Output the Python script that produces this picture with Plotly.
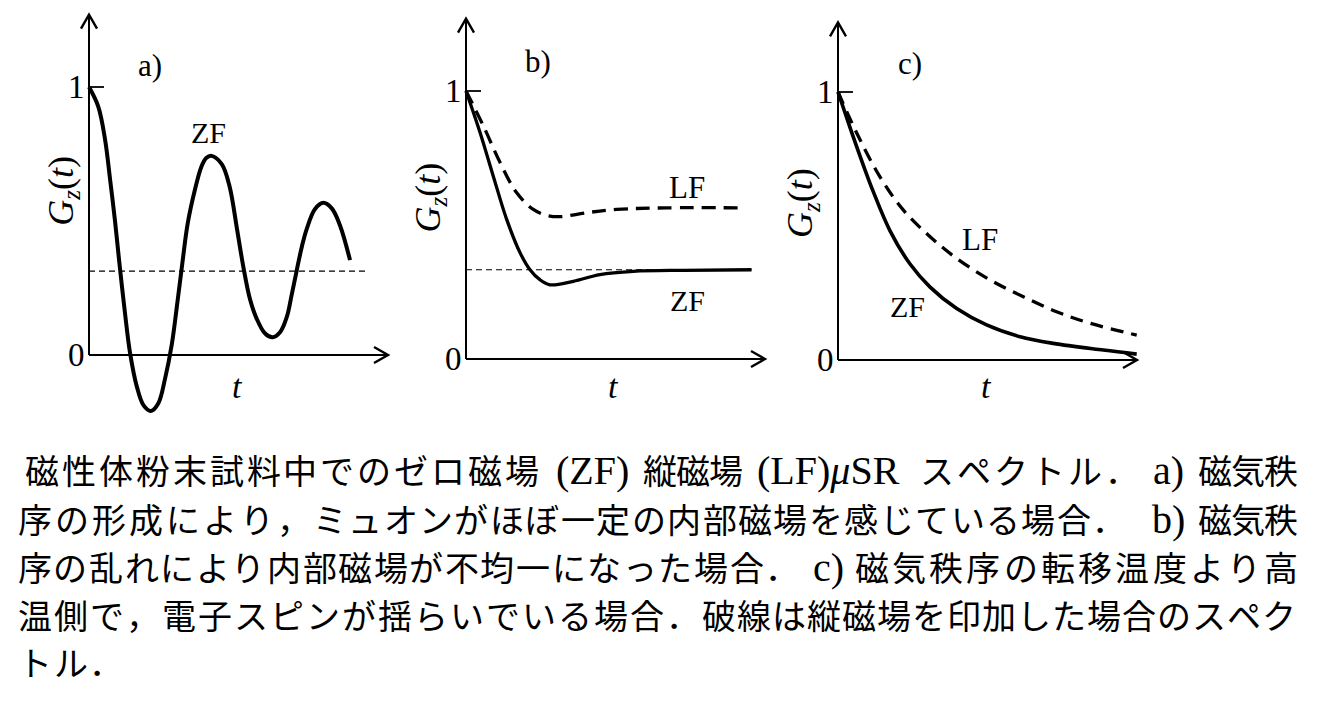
import plotly.graph_objects as go

# ---------------- data ----------------
# time axis in arbitrary units (x-axis arrow tip = 1), G in units of G(0)=1
a_zf_t = [0.000, 0.031, 0.054, 0.070, 0.087, 0.101, 0.120, 0.137, 0.160, 0.182, 0.207,
          0.232, 0.254, 0.277, 0.296, 0.313, 0.330, 0.355, 0.375, 0.392, 0.410, 0.444,
          0.470, 0.495, 0.516, 0.538, 0.561, 0.589, 0.614, 0.639, 0.661, 0.678, 0.695,
          0.712, 0.728, 0.756, 0.784, 0.812, 0.839, 0.873]
a_zf_g = [1.000, 0.927, 0.802, 0.660, 0.500, 0.350, 0.160, 0.010, -0.118, -0.187, -0.209,
          -0.180, -0.090, 0.040, 0.200, 0.350, 0.490, 0.620, 0.700, 0.735, 0.743, 0.712,
          0.630, 0.470, 0.330, 0.210, 0.135, 0.080, 0.066, 0.085, 0.140, 0.225, 0.317,
          0.405, 0.470, 0.545, 0.568, 0.547, 0.485, 0.354]
a_base_t = [0.0, 0.930]
a_base_g = [0.313, 0.313]

b_zf_t = [0.000, 0.047, 0.091, 0.136, 0.181, 0.214, 0.247, 0.281, 0.359, 0.448, 0.560, 0.727, 0.955]
b_zf_g = [1.000, 0.845, 0.683, 0.521, 0.396, 0.333, 0.296, 0.277, 0.290, 0.315, 0.327, 0.331, 0.333]
b_lf_t = [0.000, 0.058, 0.114, 0.169, 0.225, 0.270, 0.314, 0.404, 0.504, 0.671, 0.928]
b_lf_g = [1.000, 0.870, 0.733, 0.621, 0.558, 0.536, 0.531, 0.546, 0.558, 0.564, 0.564]
b_base_t = [0.0, 0.955]
b_base_g = [0.333, 0.333]

c_zf_t = [0.000, 0.040, 0.074, 0.118, 0.174, 0.241, 0.308, 0.397, 0.497, 0.609, 0.720, 0.887, 0.999]
c_zf_g = [1.000, 0.868, 0.760, 0.628, 0.482, 0.358, 0.272, 0.192, 0.131, 0.087, 0.062, 0.037, 0.022]
c_lf_t = [0.000, 0.063, 0.140, 0.218, 0.308, 0.397, 0.508, 0.620, 0.731, 0.843, 0.999]
c_lf_g = [1.000, 0.846, 0.684, 0.560, 0.460, 0.379, 0.299, 0.236, 0.180, 0.137, 0.093]

panel_names = ["a)", "b)", "c)"]
x_axis_end = [1.0, 1.0, 1.0]
y_axis_end = [1.27, 1.27, 1.26]
tick_values = [0, 1]
tick_labels = ["0", "1"]
y_label = "<i>G</i><sub><i>z</i></sub>(<i>t</i>)"
x_label = "<i>t</i>"

# caption: ("R", CJK run, left px, right px) or ("L", latin text, centre px)
caption_lines = [
    [("R", "磁性体粉末試料中でのゼロ磁場", 24, 540), ("L", "(ZF)", 592),
     ("R", "縦磁場", 644, 742), ("L", "(LF)<i>μ</i>SR", 828),
     ("R", "スペクトル．", 918, 1140), ("L", "a)", 1168), ("R", "磁気秩", 1198, 1298)],
    [("R", "序の形成により，", 17, 312),
     ("R", "ミュオンがほぼ一定の内部磁場を感じている場合．", 312, 1127),
     ("L", "b)", 1168), ("R", "磁気秩", 1198, 1298)],
    [("R", "序の乱れにより内部磁場が不均一になった場合．", 17, 800), ("L", "c)", 828),
     ("R", "磁気秩序の転移温度より高", 853, 1300)],
    [("R", "温側で，電子スピンが揺らいでいる場合．", 17, 701),
     ("R", "破線は縦磁場を印加した場合のスペク", 701, 1296)],
    [("R", "トル．", 17, 124)],
]
caption_y = [469, 518, 566, 614, 661]

# ---------------- layout geometry ----------------
W, H = 1331, 709
XS, YS = 299.0, 268.0                 # pixels per unit t, per unit G
origins = [(89, 355), (466, 359), (838, 360)]
dom_px = [(0, 420), (420, 790), (790, 1331)]
TOP_PX, BOT_PX = 0, 440

SERIF = "Liberation Serif"
CJK = "Noto Sans CJK JP"
BLACK = "#000000"

fig = go.Figure()
layout = dict(width=W, height=H, margin=dict(l=0, r=0, t=0, b=0),
              paper_bgcolor="white", plot_bgcolor="white", showlegend=False)
for i, ((ox, oy), (L, R)) in enumerate(zip(origins, dom_px)):
    sfx = "" if i == 0 else str(i + 1)
    layout["xaxis" + sfx] = dict(domain=[L / W, R / W], range=[(L - ox) / XS, (R - ox) / XS],
                                 visible=False, anchor="y" + sfx, fixedrange=True)
    layout["yaxis" + sfx] = dict(domain=[1 - BOT_PX / H, 1 - TOP_PX / H],
                                 range=[(oy - BOT_PX) / YS, (oy - TOP_PX) / YS],
                                 visible=False, anchor="x" + sfx, fixedrange=True)
fig.update_layout(**layout)


def axref(i):
    s = "" if i == 0 else str(i + 1)
    return "x" + s, "y" + s


def curve(i, t, g, width, dash="solid"):
    xr, yr = axref(i)
    fig.add_trace(go.Scatter(x=t, y=g, mode="lines", xaxis=xr, yaxis=yr,
                             line=dict(color=BLACK, width=width, dash=dash,
                                       shape="spline", smoothing=1.0),
                             hoverinfo="skip"))


def line(i, t, g, width, dash):
    xr, yr = axref(i)
    fig.add_trace(go.Scatter(x=t, y=g, mode="lines", xaxis=xr, yaxis=yr,
                             line=dict(color=BLACK, width=width, dash=dash), hoverinfo="skip"))


# thin dashed asymptotes
line(0, a_base_t, a_base_g, 1.2, "6px,4px")
line(1, b_base_t, b_base_g, 1.2, "6px,4px")
# curves
curve(0, a_zf_t, a_zf_g, 4.0)
curve(1, b_lf_t, b_lf_g, 3.3, "14px,8px")
curve(1, b_zf_t, b_zf_g, 3.3)
curve(2, c_lf_t, c_lf_g, 3.3, "13px,8px")
curve(2, c_zf_t, c_zf_g, 3.6)

shapes = []
annotations = []
for i in range(3):
    xr, yr = axref(i)
    # axes
    shapes.append(dict(type="line", xref=xr, yref=yr, x0=0, y0=0, x1=x_axis_end[i], y1=0,
                       line=dict(color=BLACK, width=2)))
    shapes.append(dict(type="line", xref=xr, yref=yr, x0=0, y0=0, x1=0, y1=y_axis_end[i],
                       line=dict(color=BLACK, width=2)))
    # arrow heads (pixel sized chevrons)
    shapes.append(dict(type="path", xref=xr, yref=yr, xsizemode="pixel", ysizemode="pixel",
                       xanchor=x_axis_end[i], yanchor=0, path="M -14,8 L 0,0 L -14,-8",
                       line=dict(color=BLACK, width=2.4)))
    shapes.append(dict(type="path", xref=xr, yref=yr, xsizemode="pixel", ysizemode="pixel",
                       xanchor=0, yanchor=y_axis_end[i], path="M -8,-14 L 0,0 L 8,-14",
                       line=dict(color=BLACK, width=2.4)))
    # tick at G=1
    shapes.append(dict(type="line", xref=xr, yref=yr, xsizemode="pixel", xanchor=0,
                       x0=0, x1=15, y0=1, y1=1, line=dict(color=BLACK, width=1.8)))
    # tick labels 0 and 1
    for val, lab in zip(tick_values, tick_labels):
        annotations.append(dict(xref=xr, yref=yr, x=0, y=val, text=lab, showarrow=False,
                                xanchor="right", yanchor="middle", xshift=-2,
                                font=dict(family=SERIF, size=33, color=BLACK)))

# panel texts (positions)
label_specs = [
    (0, 0.204, 1.082, panel_names[0], 31), (0, 0.401, 0.832, "ZF", 30),
    (1, 0.241, 1.109, panel_names[1], 31), (1, 0.738, 0.640, "LF", 31), (1, 0.742, 0.217, "ZF", 30),
    (2, 0.241, 1.108, panel_names[2], 31), (2, 0.475, 0.448, "LF", 31), (2, 0.234, 0.198, "ZF", 30),
    (0, 0.498, -0.119, x_label, 34), (1, 0.493, -0.104, x_label, 34), (2, 0.497, -0.100, x_label, 34),
]
for i, x, y, txt, sz in label_specs:
    xr, yr = axref(i)
    annotations.append(dict(xref=xr, yref=yr, x=x, y=y, text=txt, showarrow=False,
                            xanchor="center", yanchor="middle",
                            font=dict(family=SERIF, size=sz, color=BLACK)))
for i, x, y in [(0, -0.084, 0.612), (1, -0.120, 0.603), (2, -0.117, 0.586)]:
    xr, yr = axref(i)
    annotations.append(dict(xref=xr, yref=yr, x=x, y=y, text=y_label, showarrow=False,
                            textangle=-90, xanchor="center", yanchor="middle",
                            font=dict(family=SERIF, size=36, color=BLACK)))

# caption: each full-width character placed in its justified cell
for items, yc in zip(caption_lines, caption_y):
    for item in items:
        if item[0] == "R":
            _, txt, x0, x1 = item
            pitch = (x1 - x0) / len(txt)
            for k, ch in enumerate(txt):
                annotations.append(dict(xref="paper", yref="paper",
                                        x=(x0 + (k + 0.5) * pitch) / W, y=1 - yc / H,
                                        text=ch, showarrow=False,
                                        xanchor="center", yanchor="middle",
                                        font=dict(family=CJK, size=34, color=BLACK)))
        else:
            _, txt, xc = item
            annotations.append(dict(xref="paper", yref="paper", x=xc / W, y=1 - (yc + 1) / H,
                                    text=txt, showarrow=False,
                                    xanchor="center", yanchor="middle",
                                    font=dict(family=SERIF, size=40, color=BLACK)))

fig.update_layout(shapes=shapes, annotations=annotations)
fig.write_html("out.html")
